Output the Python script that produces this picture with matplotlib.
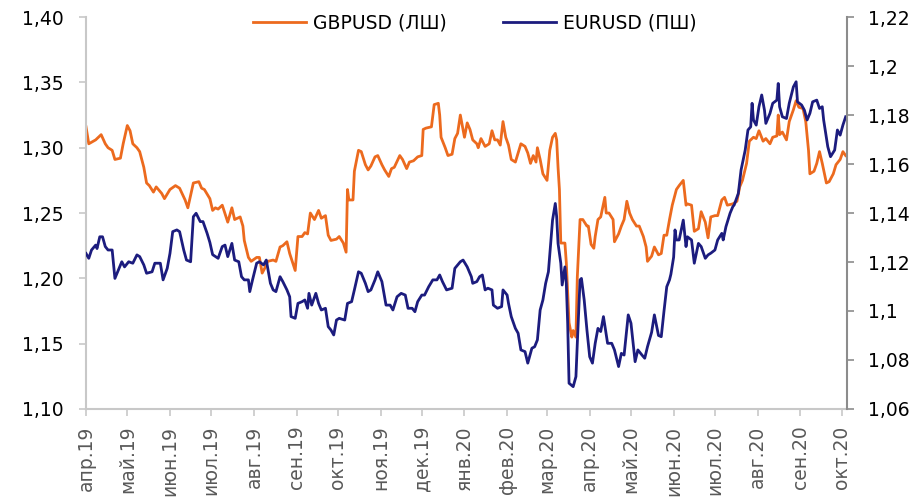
import pandas as pd
import matplotlib.pyplot as plt
import matplotlib.ticker as mticker

# GBPUSD (left axis): days since 2019-04-01 and rate
gbp_days = [0, 2, 7, 11, 14, 16, 19, 21, 25, 27, 30, 32, 34, 37, 39, 42, 44, 46, 49, 51,
            55, 57, 61, 65, 68, 72, 74, 78, 82, 84, 86, 90, 92, 94, 96, 99, 103, 106, 108, 112,
            114, 115, 118, 120, 124, 126, 128, 130, 132, 136, 138, 141, 143, 146, 148, 152, 154, 157, 159, 161,
            163, 166, 169, 171, 174, 176, 178, 182, 184, 187, 189, 190, 191, 194, 195, 198, 200, 203, 205, 207,
            210, 212, 215, 217, 220, 222, 224, 228, 230, 233, 235, 238, 241, 244, 245, 247, 251, 253, 256, 257,
            258, 261, 263, 266, 268, 270, 272, 275, 277, 279, 281, 284, 285, 287, 290, 293, 295, 297, 299, 301,
            303, 305, 307, 309, 312, 314, 316, 319, 321, 323, 325, 327, 328, 330, 332, 335, 337, 339, 341, 342,
            343, 344, 345, 348, 349, 351, 353, 354, 356, 357, 359, 361, 364, 365, 367, 369, 370, 372, 374, 377,
            378, 380, 383, 384, 387, 389, 391, 393, 395, 397, 400, 402, 405, 407, 408, 411, 413, 416, 418, 420,
            422, 424, 426, 429, 431, 434, 436, 437, 440, 442, 445, 447, 450, 452, 454, 457, 459, 462, 464, 466,
            470, 473, 475, 477, 480, 482, 485, 487, 489, 492, 494, 497, 499, 502, 503, 504, 506, 509, 511, 514,
            516, 518, 521, 523, 525, 526, 529, 531, 533, 535, 538, 540, 543, 545, 548, 550, 552]
gbp_rate = [1.316, 1.303, 1.306, 1.310, 1.303, 1.300, 1.298, 1.291, 1.292, 1.303, 1.317, 1.313, 1.303, 1.300, 1.297, 1.285, 1.273, 1.271, 1.266, 1.270,
            1.265, 1.261, 1.268, 1.271, 1.269, 1.260, 1.254, 1.273, 1.274, 1.269, 1.268, 1.261, 1.252, 1.254, 1.253, 1.256, 1.243, 1.254, 1.245, 1.247,
            1.240, 1.229, 1.216, 1.213, 1.216, 1.216, 1.204, 1.208, 1.213, 1.214, 1.213, 1.224, 1.225, 1.228, 1.219, 1.206, 1.232, 1.232, 1.235, 1.234,
            1.250, 1.245, 1.252, 1.246, 1.248, 1.233, 1.229, 1.230, 1.232, 1.227, 1.220, 1.268, 1.260, 1.260, 1.282, 1.298, 1.297, 1.287, 1.283, 1.286,
            1.293, 1.294, 1.287, 1.283, 1.278, 1.284, 1.285, 1.294, 1.291, 1.284, 1.289, 1.290, 1.293, 1.294, 1.314, 1.315, 1.316, 1.333, 1.334, 1.325,
            1.308, 1.300, 1.294, 1.295, 1.307, 1.311, 1.325, 1.308, 1.319, 1.314, 1.306, 1.303, 1.300, 1.307, 1.301, 1.303, 1.313, 1.306, 1.306, 1.302,
            1.320, 1.308, 1.302, 1.291, 1.289, 1.296, 1.303, 1.301, 1.296, 1.288, 1.294, 1.289, 1.300, 1.291, 1.280, 1.275, 1.298, 1.308, 1.311, 1.306,
            1.285, 1.268, 1.227, 1.227, 1.212, 1.166, 1.155, 1.160, 1.155, 1.201, 1.245, 1.245, 1.240, 1.240, 1.226, 1.223, 1.232, 1.245, 1.247, 1.262,
            1.250, 1.250, 1.245, 1.228, 1.234, 1.240, 1.245, 1.259, 1.250, 1.245, 1.240, 1.240, 1.232, 1.224, 1.213, 1.217, 1.224, 1.218, 1.219, 1.233,
            1.233, 1.245, 1.256, 1.268, 1.271, 1.275, 1.256, 1.257, 1.256, 1.236, 1.238, 1.251, 1.243, 1.231, 1.247, 1.248, 1.248, 1.260, 1.262, 1.256,
            1.257, 1.259, 1.270, 1.275, 1.288, 1.305, 1.308, 1.307, 1.313, 1.305, 1.307, 1.303, 1.308, 1.309, 1.325, 1.310, 1.312, 1.306, 1.320, 1.329,
            1.336, 1.331, 1.330, 1.320, 1.298, 1.280, 1.282, 1.288, 1.297, 1.288, 1.273, 1.274, 1.280, 1.287, 1.291, 1.297, 1.294]

# EURUSD (right axis)
eur_days = [0, 2, 4, 7, 8, 10, 12, 14, 16, 19, 21, 23, 26, 28, 31, 34, 37, 39, 42, 44,
            48, 50, 54, 56, 59, 61, 63, 66, 68, 71, 73, 76, 78, 80, 83, 85, 88, 90, 92, 96,
            99, 101, 103, 106, 108, 111, 113, 115, 118, 119, 121, 124, 126, 129, 131, 134, 136, 138, 141, 143,
            146, 148, 149, 152, 154, 157, 159, 161, 162, 164, 167, 169, 171, 174, 176, 178, 180, 182, 184, 188,
            190, 193, 195, 198, 200, 203, 205, 207, 210, 212, 215, 218, 221, 223, 226, 229, 232, 234, 237, 239,
            241, 244, 246, 249, 252, 255, 257, 259, 262, 266, 268, 272, 274, 277, 280, 281, 284, 286, 288, 290,
            292, 295, 296, 299, 302, 303, 306, 307, 309, 312, 314, 316, 319, 321, 324, 326, 328, 330, 332, 334,
            336, 338, 339, 341, 342, 343, 345, 346, 348, 349, 350, 351, 354, 356, 357, 359, 360, 362, 364, 366,
            368, 370, 372, 374, 376, 379, 382, 384, 387, 389, 391, 394, 396, 399, 401, 404, 406, 408, 411, 413,
            416, 418, 420, 422, 424, 425, 427, 428, 429, 431, 434, 436, 437, 440, 442, 445, 447, 450, 452, 454,
            457, 459, 462, 463, 465, 468, 470, 471, 474, 476, 479, 481, 483, 484, 485, 487, 489, 491, 493, 494,
            497, 499, 502, 503, 504, 506, 509, 511, 514, 516, 517, 520, 522, 524, 526, 528, 531, 533, 535, 536,
            539, 541, 544, 546, 548, 550, 552]
eur_rate = [1.1235, 1.1215, 1.1249, 1.1269, 1.1255, 1.1303, 1.1303, 1.1263, 1.1249, 1.1249, 1.1133, 1.1160, 1.1201, 1.1180, 1.1201, 1.1195, 1.1229, 1.1222, 1.1188, 1.1154,
            1.1160, 1.1195, 1.1195, 1.1127, 1.1174, 1.1235, 1.1324, 1.1331, 1.1324, 1.1249, 1.1208, 1.1201, 1.1385, 1.1399, 1.1365, 1.1365, 1.1317, 1.1280, 1.1230, 1.1215,
            1.1263, 1.1269, 1.1222, 1.1276, 1.1208, 1.1201, 1.1140, 1.1127, 1.1127, 1.1079, 1.1127, 1.1195, 1.1201, 1.1188, 1.1208, 1.1113, 1.1086, 1.1079, 1.1140, 1.1120,
            1.1086, 1.1058, 1.0977, 1.0970, 1.1031, 1.1038, 1.1045, 1.1011, 1.1072, 1.1024, 1.1072, 1.1031, 1.1004, 1.1011, 1.0936, 1.0922, 1.0902, 1.0963, 1.0970, 1.0963,
            1.1031, 1.1038, 1.1086, 1.1160, 1.1154, 1.1113, 1.1079, 1.1086, 1.1127, 1.1160, 1.1120, 1.1024, 1.1024, 1.1004, 1.1058, 1.1072, 1.1065, 1.1011, 1.1011, 1.0997,
            1.1038, 1.1065, 1.1065, 1.1099, 1.1127, 1.1127, 1.1147, 1.1120, 1.1086, 1.1093, 1.1174, 1.1201, 1.1208, 1.1180, 1.1140, 1.1113, 1.1120, 1.1140, 1.1147, 1.1086,
            1.1093, 1.1086, 1.1024, 1.1011, 1.1018, 1.1086, 1.1065, 1.1031, 1.0977, 1.0929, 1.0909, 1.0841, 1.0834, 1.0787, 1.0848, 1.0854, 1.0882, 1.1004, 1.1045, 1.1113,
            1.1160, 1.1303, 1.1371, 1.1439, 1.1385, 1.1276, 1.1195, 1.1106, 1.1180, 1.1113, 1.0950, 1.0705, 1.0691, 1.0732, 1.0868, 1.1127, 1.1133, 1.1045, 1.0922, 1.0813,
            1.0787, 1.0868, 1.0929, 1.0916, 1.0977, 1.0868, 1.0868, 1.0841, 1.0773, 1.0827, 1.0820, 1.0984, 1.0950, 1.0793, 1.0841, 1.0820, 1.0807, 1.0854, 1.0913, 1.0984,
            1.0900, 1.0895, 1.1000, 1.1099, 1.1127, 1.1150, 1.1220, 1.1331, 1.1290, 1.1290, 1.1371, 1.1263, 1.1303, 1.1290, 1.1195, 1.1276, 1.1263, 1.1215, 1.1229, 1.1236,
            1.1249, 1.1290, 1.1317, 1.1290, 1.1344, 1.1399, 1.1426, 1.1433, 1.1480, 1.1576, 1.1657, 1.1739, 1.1752, 1.1848, 1.1780, 1.1759, 1.1834, 1.1882, 1.1820, 1.1766,
            1.1807, 1.1848, 1.1861, 1.1929, 1.1834, 1.1793, 1.1786, 1.1848, 1.1915, 1.1936, 1.1854, 1.1841, 1.1820, 1.1780, 1.1807, 1.1854, 1.1861, 1.1827, 1.1834, 1.1780,
            1.1671, 1.1630, 1.1657, 1.1739, 1.1718, 1.1759, 1.1793]

month_labels = ['апр.19', 'май.19', 'июн.19', 'июл.19', 'авг.19', 'сен.19', 'окт.19',
                'ноя.19', 'дек.19', 'янв.20', 'фев.20', 'мар.20', 'апр.20', 'май.20',
                'июн.20', 'июл.20', 'авг.20', 'сен.20', 'окт.20']

start = pd.Timestamp('2019-04-01')
gbp_x = start + pd.to_timedelta(gbp_days, unit='D')
eur_x = start + pd.to_timedelta(eur_days, unit='D')
month_ticks = pd.date_range(start, periods=len(month_labels), freq='MS')

plt.rcParams['font.family'] = 'DejaVu Sans'
orange = '#EC6A1E'
navy = '#1C1C7E'

fig = plt.figure(figsize=(9.18, 5.03), dpi=100)
ax = fig.add_axes([0.0937, 0.187, 0.829, 0.779])
ax2 = ax.twinx()

l1, = ax.plot(gbp_x, gbp_rate, color=orange, lw=2.0)
l2, = ax2.plot(eur_x, eur_rate, color=navy, lw=2.0)

ax.set_xlim(start, start + pd.Timedelta(days=553))
ax.set_ylim(1.10, 1.40)
ax2.set_ylim(1.06, 1.22)
ax.set_yticks([1.10, 1.15, 1.20, 1.25, 1.30, 1.35, 1.40])
ax2.set_yticks([1.06, 1.08, 1.10, 1.12, 1.14, 1.16, 1.18, 1.20, 1.22])
ax.yaxis.set_major_formatter(mticker.FuncFormatter(lambda v, p: f'{v:.2f}'.replace('.', ',')))
ax2.yaxis.set_major_formatter(mticker.FuncFormatter(lambda v, p: f'{round(v, 2):g}'.replace('.', ',')))

ax.set_xticks(month_ticks)
ax.set_xticklabels(month_labels, rotation=90, color='#595959')

for a in (ax, ax2):
    a.spines['top'].set_visible(False)
    a.tick_params(labelsize=13.5, length=5, width=1.2)
ax.spines['left'].set_color('#C8C8C8')
ax.spines['bottom'].set_color('#C8C8C8')
ax.spines['right'].set_visible(False)
ax2.spines['left'].set_visible(False)
ax2.spines['bottom'].set_visible(False)
ax2.spines['right'].set_color('#8C8C8C')
ax.spines['left'].set_linewidth(1.5)
ax.spines['bottom'].set_linewidth(1.5)
ax2.spines['right'].set_linewidth(1.5)
ax.tick_params(axis='y', colors='#C8C8C8', labelcolor='black', pad=11)
ax.tick_params(axis='x', colors='#C8C8C8', labelcolor='#595959', pad=7)
ax2.tick_params(axis='y', colors='#8C8C8C', labelcolor='black', pad=10)

fig.legend([l1, l2], ['GBPUSD (ЛШ)', 'EURUSD (ПШ)'], loc='center',
           bbox_to_anchor=(475 / 918, 1 - 23 / 503), ncol=2, frameon=False,
           fontsize=13.5, handlelength=2.8, columnspacing=3.0, handletextpad=0.4)

fig.savefig('out.png', dpi=100)
